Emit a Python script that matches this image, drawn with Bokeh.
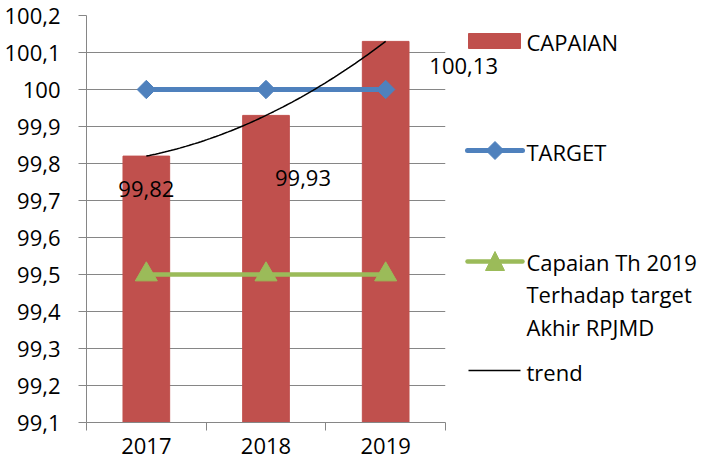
import numpy as np
from bokeh.plotting import figure
from bokeh.models import Range1d, FixedTicker
from bokeh.core.properties import value
from bokeh.embed import file_html
from bokeh.resources import INLINE

# ---- data ----
years = ["2017", "2018", "2019"]
capaian = [99.82, 99.93, 100.13]
capaian_labels = ["99,82", "99,93", "100,13"]
target = [100.0, 100.0, 100.0]
capaian_rpjmd = [99.5, 99.5, 99.5]
y_ticks = [99.1, 99.2, 99.3, 99.4, 99.5, 99.6, 99.7, 99.8, 99.9, 100.0, 100.1, 100.2]
y_tick_labels = ["99,1", "99,2", "99,3", "99,4", "99,5", "99,6", "99,7", "99,8",
                 "99,9", "100", "100,1", "100,2"]
series_names = ["CAPAIAN", "TARGET",
                "Capaian Th 2019\nTerhadap target\nAkhir RPJMD", "trend"]

# ---- style ----
FONT = "Open Sans"
FS = "22px"
GRID = "#868686"
RED = "#C0504D"
BLUE = "#4F81BD"
GREEN = "#9BBB59"
label_dx = [0, 37, 78]     # pixel offsets of the data labels
label_dy = [33, 63, 24.5]

FW, FH = 359, 407
p = figure(frame_width=FW, frame_height=FH,
           min_border_left=86, min_border_top=15, min_border_right=253, min_border_bottom=37,
           x_range=Range1d(0, len(years)), y_range=Range1d(y_ticks[0], y_ticks[-1]),
           output_backend="svg", toolbar_location=None)
p.outline_line_color = None
p.background_fill_color = "white"
p.border_fill_color = "white"

# extra pixel-like ranges for the legend placed outside the frame
p.extra_x_ranges = {"px": Range1d(0, FW)}
p.extra_y_ranges = {"py": Range1d(FH, 0)}

xc = np.arange(len(years)) + 0.5

# y axis
yt = FixedTicker(ticks=y_ticks)
p.yaxis.ticker = yt
p.ygrid.ticker = yt
p.yaxis.major_label_overrides = dict(zip(y_ticks, y_tick_labels))
p.yaxis.major_label_text_font = FONT
p.yaxis.major_label_text_font_size = FS
p.yaxis.major_label_text_color = "black"
p.yaxis.major_label_standoff = 18
p.yaxis.major_tick_out = 8
p.yaxis.major_tick_in = 0
p.yaxis.minor_tick_line_color = None
p.yaxis.axis_line_color = GRID
p.yaxis.major_tick_line_color = GRID

# x axis: labels at category centres, tick marks at category boundaries
p.xaxis.ticker = FixedTicker(ticks=list(xc), minor_ticks=list(range(len(years) + 1)))
p.xaxis.major_label_overrides = {float(x): y for x, y in zip(xc, years)}
p.xaxis.major_label_text_font = FONT
p.xaxis.major_label_text_font_size = FS
p.xaxis.major_label_text_color = "black"
p.xaxis.major_label_standoff = 7
p.xaxis.major_tick_out = 0
p.xaxis.major_tick_in = 0
p.xaxis.major_tick_line_color = None
p.xaxis.minor_tick_out = 8
p.xaxis.minor_tick_in = 0
p.xaxis.minor_tick_line_color = GRID
p.xaxis.axis_line_color = GRID

p.xgrid.visible = False
p.ygrid.grid_line_color = GRID
p.ygrid.grid_line_width = 1

# series
p.vbar(x=xc, top=capaian, bottom=y_ticks[0], width=0.39, color=RED)
p.line(xc, target, color=BLUE, line_width=5)
p.scatter(xc, target, marker="square", angle=np.pi / 4, size=13, color=BLUE)
p.line(xc, capaian_rpjmd, color=GREEN, line_width=4.5)
p.scatter(xc, capaian_rpjmd, marker="triangle", size=22, color=GREEN)

coef = np.polyfit(xc, capaian, 2)
xs = np.linspace(xc[0], xc[-1], 80)
p.line(xs, np.polyval(coef, xs), color="black", line_width=1.5)

# data labels
p.text(x=xc, y=capaian, text=capaian_labels, x_offset=label_dx, y_offset=label_dy,
       text_align="center", text_baseline="middle", text_font=value(FONT),
       text_font_size=FS, text_color="black", level="overlay")

# legend (drawn manually outside the frame, in pixel-like units)
leg = dict(x_range_name="px", y_range_name="py", level="overlay")
txt = dict(text_align="left", text_baseline="middle", text_font=value(FONT),
           text_font_size=FS, text_color="black")
p.quad(left=[382], right=[434], top=[18], bottom=[33], color=RED, **leg)
p.text(x=[440], y=[26], text=[series_names[0]], **txt, **leg)

p.line([381, 436], [135, 135], color=BLUE, line_width=5, line_cap="round", **leg)
p.patch([408.5, 417.5, 408.5, 399.5], [126, 135, 144, 135], color=BLUE, **leg)
p.text(x=[440], y=[136], text=[series_names[1]], **txt, **leg)

p.line([381, 436], [246, 246], color=GREEN, line_width=4.5, line_cap="round", **leg)
p.patch([399, 418, 408.5], [255, 255, 236], color=GREEN, **leg)
lines = series_names[2].split("\n")
p.text(x=[440] * len(lines), y=[246 + 32.5 * i for i in range(len(lines))],
       text=lines, **txt, **leg)

p.line([382, 434], [355, 355], color="black", line_width=1.5, **leg)
p.text(x=[440], y=[356], text=[series_names[3]], **txt, **leg)

open("out.html", "w").write(file_html(p, INLINE))
